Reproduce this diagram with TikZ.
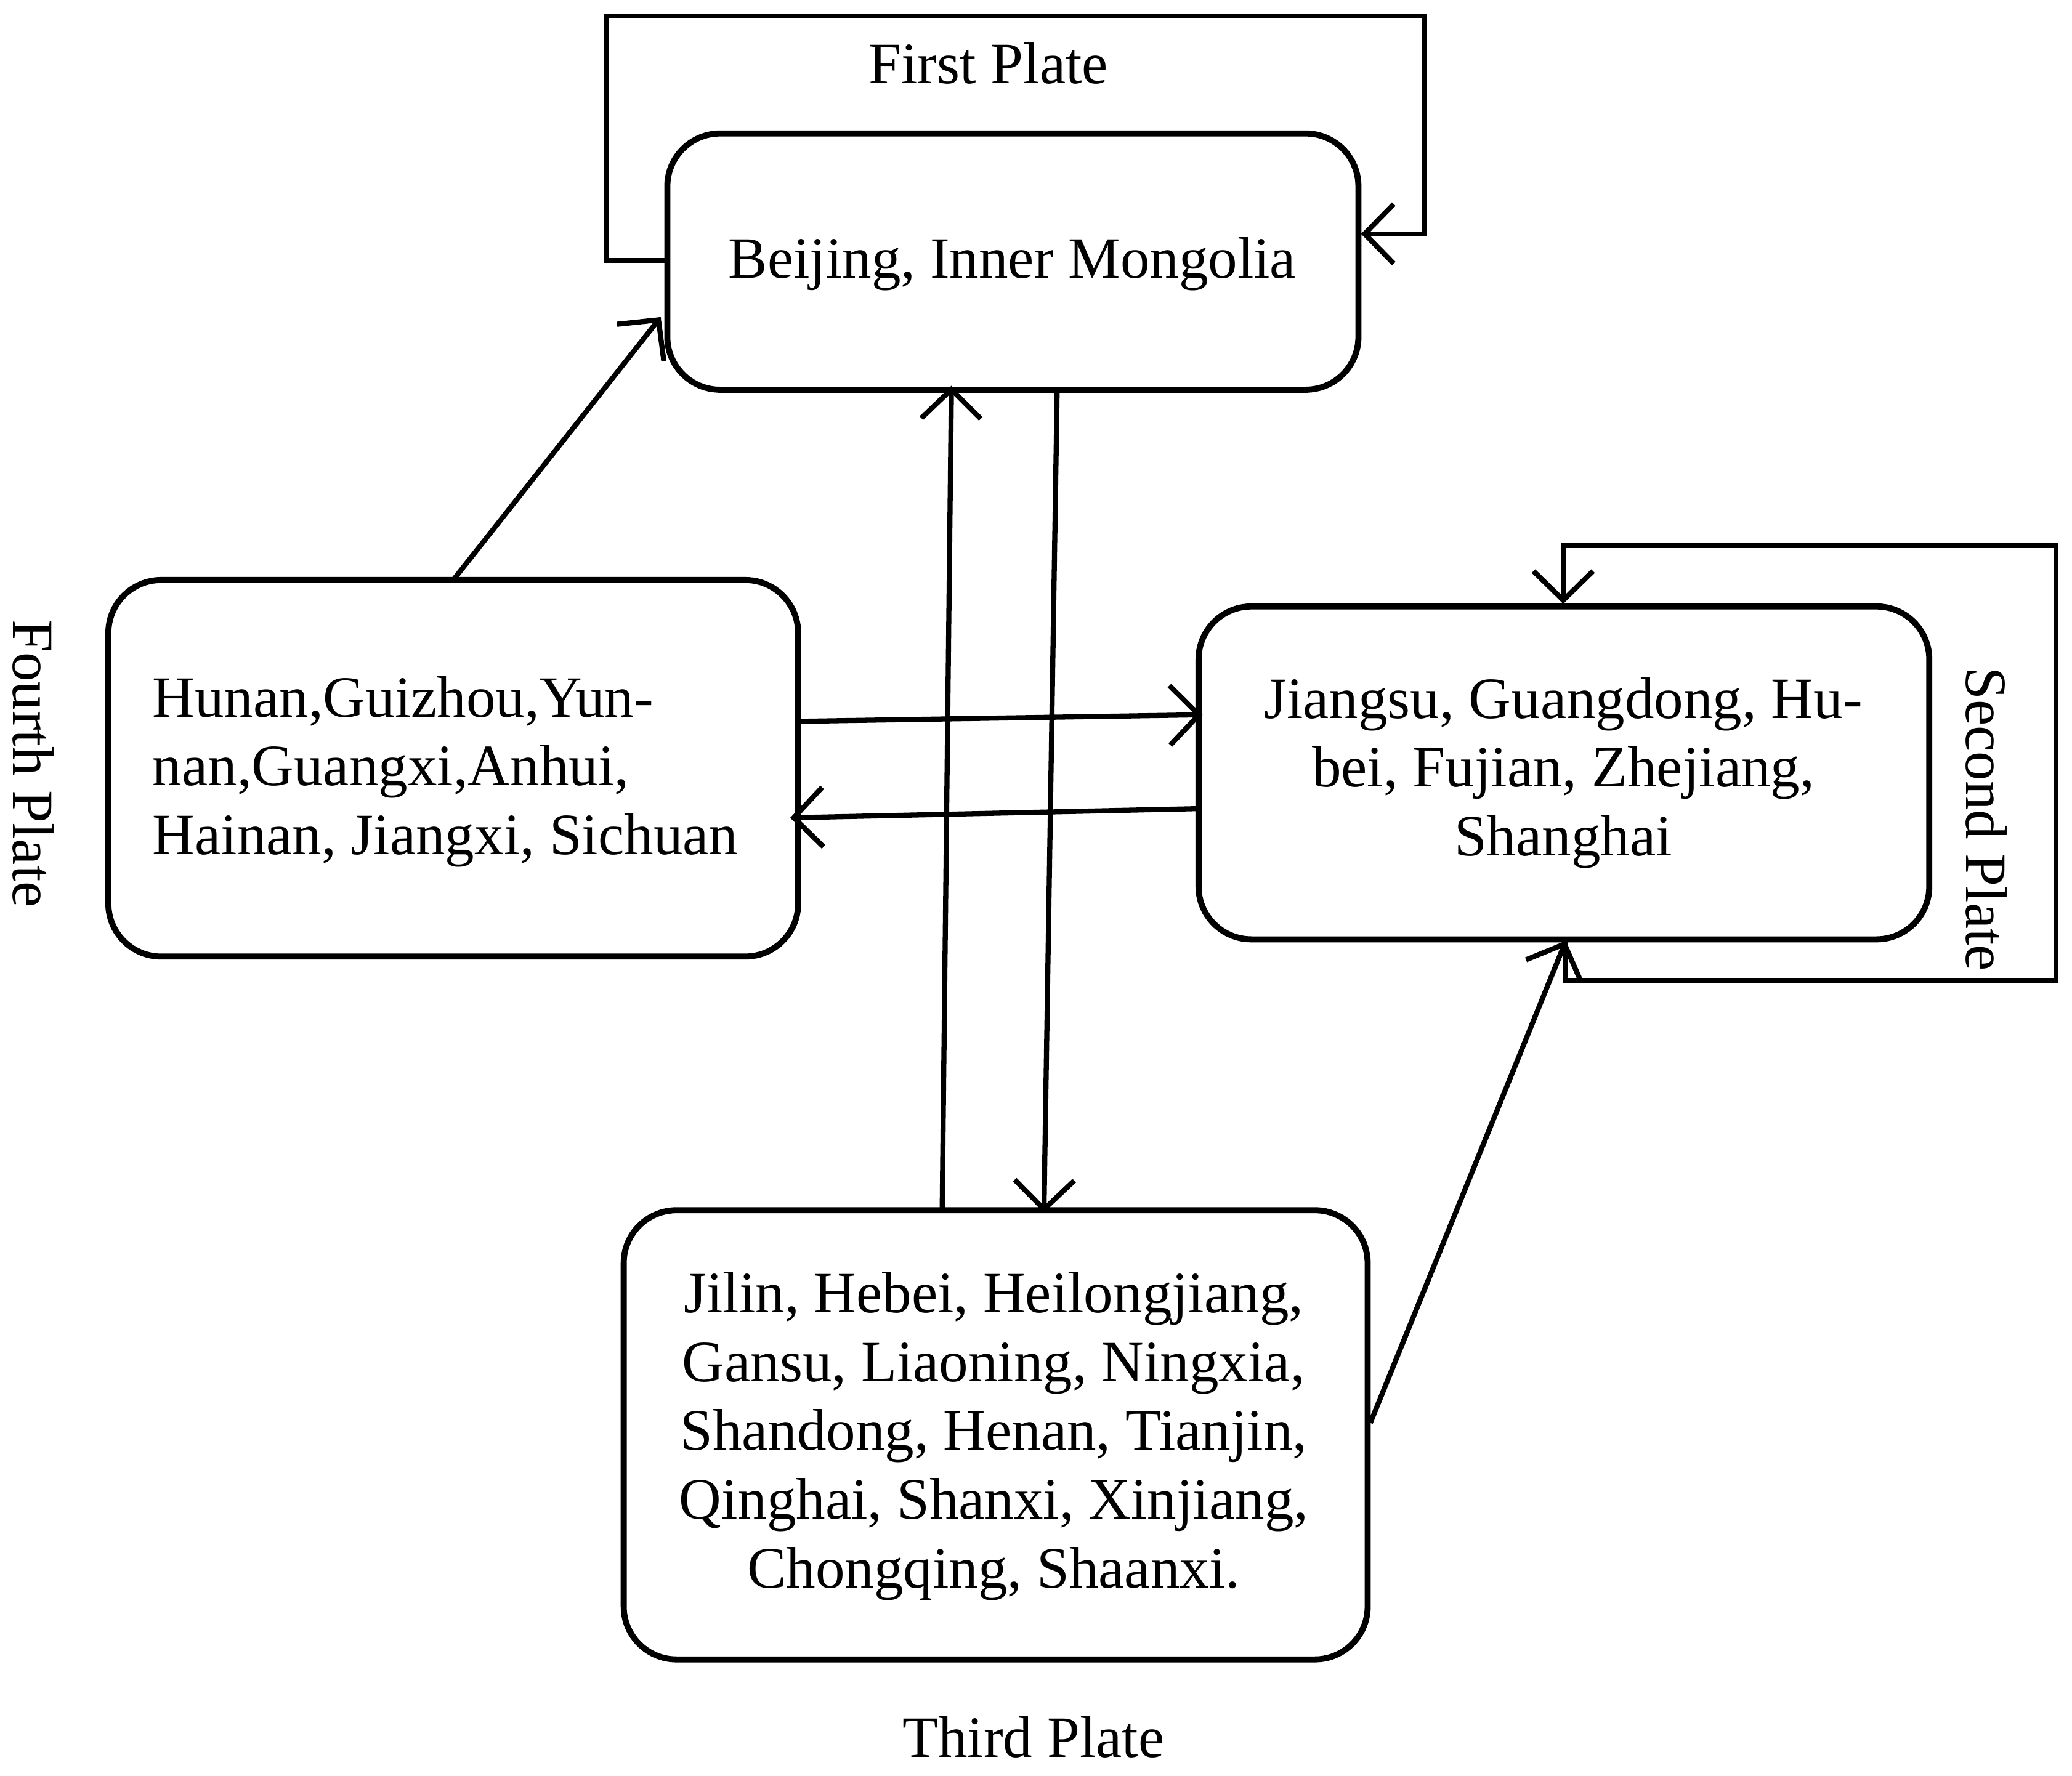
\documentclass[tikz,border=0pt]{standalone}
\usepackage{fontspec}
\setmainfont{Liberation Serif}
\usetikzlibrary{arrows.meta}
\begin{document}
\begin{tikzpicture}[x=0.01cm,y=-0.01cm,
  box/.style={draw,line width=1.3pt,rounded corners=0.4cm,inner sep=0pt},
  txt/.style={align=center,font=\fontsize{12.6}{14.8}\selectfont},
  con/.style={line width=1.1pt,-{Straight Barb[length=2.2mm,width=4.5mm,line width=1.1pt]}},
  lab/.style={font=\fontsize{12.6}{14.8}\selectfont}]
\useasboundingbox (0,0) rectangle (1568,1344);
\draw[box] (505,101) rectangle (1028,295);
\node[txt] (b1) at (766,200) {Beijing, Inner Mongolia};
\draw[box] (82,439) rectangle (604,724);
\node[txt,align=left] (b4) at (337,584) {Hunan,Guizhou,Yun-\\nan,Guangxi,Anhui,\\Hainan, Jiangxi, Sichuan};
\draw[box] (907,459) rectangle (1460,711);
\node[txt] (b2) at (1183,585) {Jiangsu, Guangdong, Hu-\\bei, Fujian, Zhejiang,\\Shanghai};
\draw[box] (472,916) rectangle (1035,1256);
\node[txt] (b3) at (752,1087) {Jilin, Hebei, Heilongjiang,\\Gansu, Liaoning, Ningxia,\\Shandong, Henan, Tianjin,\\Qinghai, Shanxi, Xinjiang,\\Chongqing, Shaanxi.};
\node[lab] (l1) at (748,48) {First Plate};
\node[lab,rotate=-90] (l2) at (1503,620) {Second Plate};
\node[lab,rotate=-90] (l4) at (25,578) {Fourth Plate};
\node[lab] (l3) at (782,1315) {Third Plate};
\coordinate (a1) at (505,197); \coordinate (a2) at (1030,177);
\draw[con] (a1) -- (459,197) -- (459,12) -- (1078,12) -- (1078,177) -- (a2);
\coordinate (c1) at (343,439); \coordinate (c2) at (500,240);
\draw[con] (c1) -- (c2);
\coordinate (d1) at (604,546); \coordinate (d2) at (910,541);
\draw[con] (d1) -- (d2);
\coordinate (e1) at (909,612); \coordinate (e2) at (598,619);
\draw[con] (e1) -- (e2);
\coordinate (f1) at (713,916); \coordinate (f2) at (720,292);
\draw[con] (f1) -- (f2);
\coordinate (g1) at (800,295); \coordinate (g2) at (790,918);
\draw[con] (g1) -- (g2);
\coordinate (h1) at (1037,1077); \coordinate (h2) at (1185,712);
\draw[con] (h1) -- (h2);
\coordinate (k2) at (1183,457);
\draw[con] (h2) -- (1185,742) -- (1556,742) -- (1556,413) -- (1183,413) -- (k2);
\end{tikzpicture}
\end{document}
